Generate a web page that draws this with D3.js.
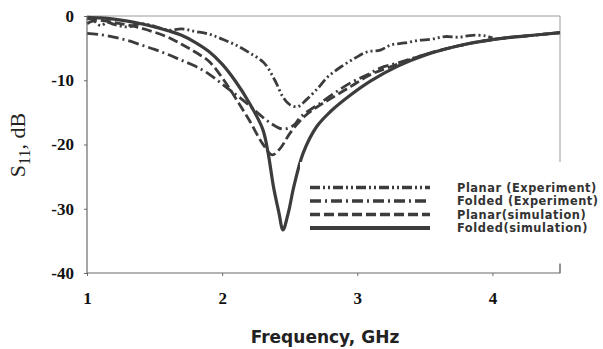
<!DOCTYPE html>
<html>
<head>
<meta charset="utf-8">
<script src="https://cdn.jsdelivr.net/npm/d3@7"></script>
<style>
  body { margin: 0; background: #fff; }
  svg { display: block; }
</style>
</head>
<body>
<svg width="603" height="349"></svg>
<script>
const svgWidth = 603;
const svgHeight = 349;

const margin = { top: 16, left: 87, bottom: 76, right: 43 };
const width = svgWidth - (margin.left + margin.right);
const height = svgHeight - (margin.top + margin.bottom);

// values
const xTicks = [1, 2, 3, 4];
const yTicks = [0, -10, -20, -30, -40];

const planarExpFreq = [1.0, 1.05, 1.1, 1.15, 1.2, 1.3, 1.4, 1.5, 1.6, 1.7, 1.8, 1.9, 2.0, 2.1, 2.2, 2.31, 2.39, 2.45, 2.5, 2.56, 2.62, 2.71, 2.78, 2.88, 2.98, 3.07, 3.17, 3.25, 3.35, 3.45, 3.55, 3.65, 3.75, 3.85, 3.95, 4.0];
const planarExpS11 = [-1.2, -0.8, -1.5, -1.0, -1.3, -1.7, -1.2, -1.6, -2.2, -2.0, -2.4, -2.8, -3.6, -4.5, -5.7, -7.3, -10.0, -12.6, -13.8, -14.1, -13.1, -11.2, -9.5, -7.9, -6.6, -5.6, -5.3, -4.5, -4.2, -3.8, -3.6, -3.2, -3.3, -3.0, -3.1, -3.4];

const foldedExpFreq = [1.0, 1.1, 1.2, 1.3, 1.4, 1.5, 1.6, 1.7, 1.8, 1.9, 2.0, 2.1, 2.2, 2.28, 2.36, 2.45, 2.53, 2.58, 2.65, 2.71, 2.83, 2.95, 3.07, 3.17, 3.3, 3.5, 3.8, 4.1, 4.3, 4.5];
const foldedExpS11 = [-2.7, -2.9, -3.3, -3.8, -4.5, -5.2, -6.0, -6.9, -7.8, -9.0, -10.6, -12.2, -13.9, -15.4, -16.7, -17.6, -17.0, -15.7, -14.6, -13.8, -12.0, -10.4, -9.2, -8.1, -7.3, -6.0, -4.4, -3.4, -3.0, -2.6];

const planarSimFreq = [1.0, 1.2, 1.4, 1.6, 1.7, 1.8, 1.9, 2.0, 2.1, 2.2, 2.3, 2.37, 2.43, 2.5, 2.6, 2.7, 2.8, 2.95, 3.1, 3.3, 3.5, 3.8, 4.1, 4.3, 4.5];
const planarSimS11 = [-0.4, -1.0, -1.9, -3.3, -4.4, -5.6, -7.0, -9.6, -12.8, -16.2, -19.9, -21.6, -20.6, -18.3, -15.8, -14.2, -12.9, -11.0, -9.1, -7.5, -6.0, -4.4, -3.4, -3.0, -2.6];

const foldedSimFreq = [1.0, 1.1, 1.2, 1.3, 1.4, 1.5, 1.6, 1.7, 1.8, 1.9, 2.0, 2.1, 2.2, 2.3, 2.34, 2.38, 2.42, 2.45, 2.49, 2.53, 2.6, 2.7, 2.8, 2.95, 3.1, 3.3, 3.5, 3.8, 4.1, 4.3, 4.5];
const foldedSimS11 = [-0.2, -0.3, -0.5, -0.8, -1.2, -1.7, -2.3, -3.0, -4.1, -5.5, -7.5, -10.2, -13.5, -17.6, -21.3, -26.6, -30.6, -33.3, -30.6, -26.6, -21.3, -17.2, -14.9, -12.3, -10.1, -7.8, -6.1, -4.4, -3.4, -3.0, -2.6];

const seriesNames = ["Planar (Experiment)", "Folded (Experiment)", "Planar(simulation)", "Folded(simulation)"];

const series = [
  { name: seriesNames[0], x: planarExpFreq, y: planarExpS11, dash: "10,3,2,3,2,3", w: 2.8 },
  { name: seriesNames[1], x: foldedExpFreq, y: foldedExpS11, dash: "11,4,2,4", w: 2.8 },
  { name: seriesNames[2], x: planarSimFreq, y: planarSimS11, dash: "10,4", w: 2.8 },
  { name: seriesNames[3], x: foldedSimFreq, y: foldedSimS11, dash: null, w: 3.2 }
];

const ink = "#3c3c3c";
const serif = "'Liberation Serif', 'Times New Roman', serif";
const sans = "'DejaVu Sans', Verdana, sans-serif";

const xScale = d3.scaleLinear().domain([1, 4.5]).range([0, width]);
const yScale = d3.scaleLinear().domain([-40, 0]).range([height, 0]);

const svg = d3.select("svg");
const g = svg.append("g").attr("transform", `translate(${margin.left},${margin.top})`);

// frame: top and right lighter
g.append("line").attr("x1", 0).attr("x2", width).attr("y1", 0).attr("y2", 0)
  .attr("stroke", "#9a9a9a").attr("stroke-width", 1);
g.append("line").attr("x1", width).attr("x2", width).attr("y1", 0).attr("y2", height)
  .attr("stroke", "#9a9a9a").attr("stroke-width", 1);

const line = d3.line()
  .x(d => xScale(d[0]))
  .y(d => yScale(d[1]))
  .curve(d3.curveCatmullRom.alpha(0.5));

g.append("g").attr("class", "lines")
  .selectAll("path")
  .data(series)
  .enter()
  .append("path")
  .attr("d", s => line(s.x.map((f, i) => [f, s.y[i]])))
  .attr("fill", "none")
  .attr("stroke", ink)
  .attr("stroke-width", s => s.w)
  .attr("stroke-dasharray", s => s.dash)
  .attr("stroke-linejoin", "round");

// axes
const xAxis = d3.axisBottom(xScale).tickValues(xTicks).tickSize(3).tickFormat(d => d);
const yAxis = d3.axisLeft(yScale).tickValues(yTicks).tickSize(3).tickFormat(d => d);

const gx = g.append("g").attr("class", "xAxis")
  .attr("transform", `translate(0,${height})`)
  .attr("font-family", serif)
  .call(xAxis);
gx.select(".domain").attr("d", `M0,0H${width}V-9`).attr("stroke", "#6a6a6a").attr("stroke-width", 1.2);
gx.selectAll(".tick line").attr("stroke", "#6a6a6a");
gx.selectAll("text")
  .attr("y", 19)
  .attr("font-family", serif)
  .style("font-family", serif)
  .style("font-weight", "bold")
  .style("font-size", "17px")
  .attr("fill", "#111");

const gy = g.append("g").attr("class", "yAxis")
  .attr("font-family", serif)
  .call(yAxis);
gy.select(".domain").attr("d", `M0,0V${height}`).attr("stroke", "#6a6a6a").attr("stroke-width", 1.2);
gy.selectAll(".tick line").attr("stroke", "#6a6a6a");
gy.selectAll("text")
  .attr("x", -13)
  .attr("font-family", serif)
  .style("font-family", serif)
  .style("font-weight", "bold")
  .style("font-size", "17px")
  .attr("fill", "#111");

// legend
const legend = svg.append("g").attr("class", "legend").attr("transform", "translate(300,162)");
legend.append("rect").attr("x", 0).attr("y", 0).attr("width", 303).attr("height", 101).attr("fill", "#fff");

const rowY = [25.5, 39, 52.5, 66];
const items = legend.selectAll(".item")
  .data(series)
  .enter()
  .append("g")
  .attr("class", "item")
  .attr("transform", (d, i) => `translate(0,${rowY[i]})`);

items.append("line")
  .attr("x1", 10).attr("x2", 130)
  .attr("y1", 0).attr("y2", 0)
  .attr("stroke", ink)
  .attr("stroke-width", s => s.w + 0.6)
  .attr("stroke-dasharray", s => s.dash);

items.append("text")
  .text(s => s.name)
  .attr("x", 157)
  .attr("y", 4.2)
  .style("font-family", sans)
  .style("font-weight", "bold")
  .style("font-size", "11.4px")
  .style("letter-spacing", "0.55px")
  .attr("fill", "#333");

// axis titles
svg.append("text")
  .text("Frequency, GHz")
  .attr("x", 325)
  .attr("y", 343)
  .attr("text-anchor", "middle")
  .style("font-family", sans)
  .style("font-weight", "bold")
  .style("font-size", "17px")
  .attr("fill", "#222");

const yTitle = svg.append("text")
  .attr("transform", "translate(25,145) rotate(-90)")
  .attr("text-anchor", "middle")
  .style("font-family", serif)
  .style("font-size", "22px")
  .attr("fill", "#222");
yTitle.append("tspan").text("S");
yTitle.append("tspan").text("11").attr("dy", 5).style("font-size", "16px");
yTitle.append("tspan").text(", dB").attr("dy", -5);
</script>
</body>
</html>
